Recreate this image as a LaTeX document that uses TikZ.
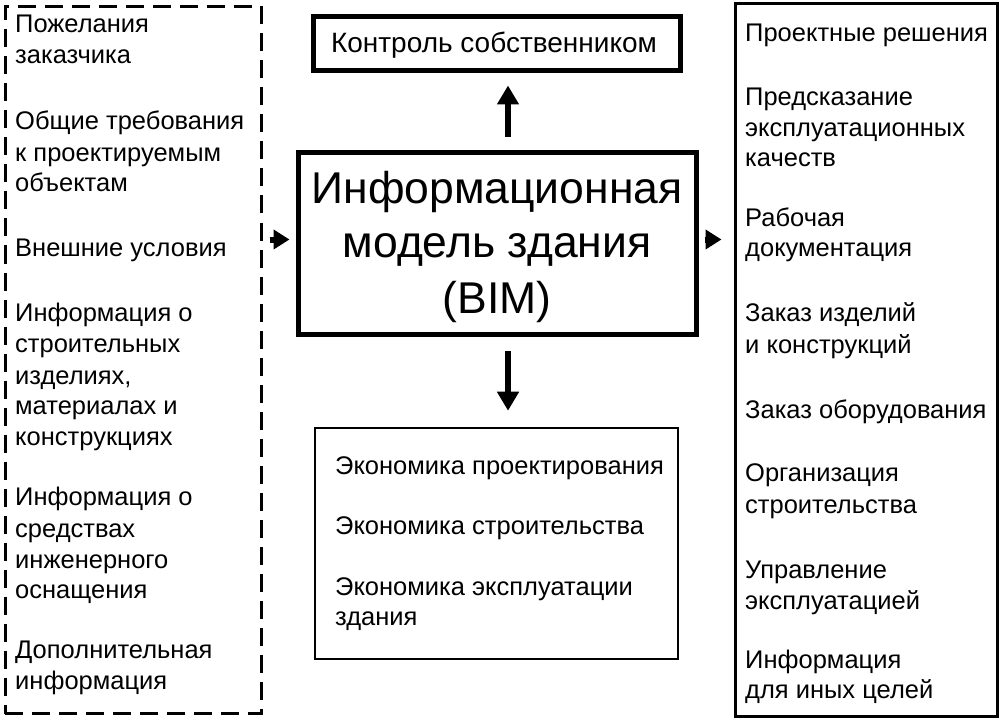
\documentclass[tikz,border=0pt]{standalone}
\usepackage{fontspec}
\setmainfont{Liberation Sans}
\usetikzlibrary{arrows.meta}
\tikzset{
  dashbox/.style={draw, line width=3pt, dash pattern=on 18pt off 9pt, inner sep=0pt},
  thinbox/.style={draw, line width=3pt, inner sep=0pt},
  midbox/.style={draw, line width=2.6pt, inner sep=0pt},
  thickbox/.style={draw, line width=5pt, inner sep=0pt},
  side/.style={anchor=base west, inner sep=0pt, font=\fontsize{25.5}{30}\selectfont},
  bigtxt/.style={anchor=base, inner sep=0pt, font=\fontsize{44.5}{52}\selectfont},
  bigarr/.style={line width=6pt, -{Triangle[length=19pt,width=21pt]}},
  smallarr/.style={line width=6pt, -{Triangle[length=16pt,width=19pt]}}
}
\begin{document}
\begin{tikzpicture}[x=1pt,y=-1pt]
\useasboundingbox (0,0) rectangle (1001,722);
\fill[white] (0,0) rectangle (1001,722);
% boxes
\node[dashbox, minimum width=256pt, minimum height=707pt] (inbox) at (133,360) {};
\node[thinbox, minimum width=262pt, minimum height=712pt] (outbox) at (866,360) {};
\node[thickbox, minimum width=367pt, minimum height=54pt] (ctrl) at (496.5,44) {};
\node[thickbox, minimum width=398pt, minimum height=181pt] (main) at (497,243.5) {};
\node[midbox, minimum width=363pt, minimum height=231pt] (econ) at (496.5,543.5) {};
% main text
\node[bigtxt] (m1) at (497,204) {Информационная};
\node[bigtxt] (m2) at (497,258) {модель здания};
\node[bigtxt] (m3) at (497,313) {(BIM)};
\node[anchor=base, inner sep=0pt, font=\fontsize{28}{32}\selectfont] (c1) at (494,53) {Контроль собственником};
% left texts
\foreach \y/\t [count=\i] in {
  33/Пожелания, 64/заказчика,
  130/Общие требования, 162/к проектируемым, 192/объектам,
  256/Внешние условия,
  321/Информация о, 352/строительных, 384/{изделиях,}, 414/материалах и, 445/конструкциях,
  505/Информация о, 537/средствах, 568/инженерного, 598/оснащения,
  658/Дополнительная, 689/информация}
  \node[side] (L\i) at (15,\y) {\t};
% right texts
\foreach \y/\t [count=\i] in {
  42/Проектные решения,
  106/Предсказание, 137/эксплуатационных, 167/качеств,
  226/Рабочая, 256/документация,
  321/Заказ изделий, 353/и конструкций,
  418/Заказ оборудования,
  481/Организация, 513/строительства,
  578/Управление, 609/эксплуатацией,
  668/Информация, 698/для иных целей}
  \node[side] (R\i) at (745,\y) {\t};
% bottom texts
\foreach \y/\t [count=\i] in {
  474/Экономика проектирования, 534/Экономика строительства,
  595/Экономика эксплуатации, 625/здания}
  \node[side] (E\i) at (335,\y) {\t};
% arrows
\draw[bigarr, shorten <=13pt, shorten >=12pt] ([xshift=11pt]main.north) -- ([xshift=11pt]main.north |- ctrl.south);
\draw[bigarr, shorten <=14pt, shorten >=16pt] ([xshift=11pt]main.south) -- ([xshift=11pt]main.south |- econ.north);
\draw[smallarr, shorten <=7pt, shorten >=6pt] ([yshift=4pt]main.west -| inbox.east) -- ([yshift=4pt]main.west);
\draw[smallarr, shorten <=6pt, shorten >=12pt] ([yshift=4pt]main.east) -- ([yshift=4pt]main.east -| outbox.west);
\end{tikzpicture}
\end{document}
